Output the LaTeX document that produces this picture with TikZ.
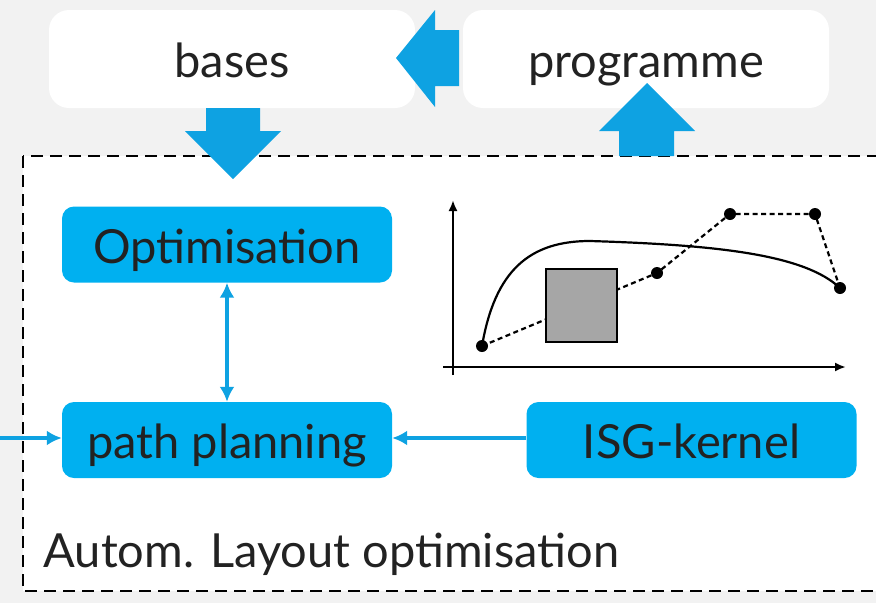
\documentclass[tikz,border=0pt]{standalone}
\usepackage{fontspec}
\setmainfont{Lato}
\usetikzlibrary{arrows.meta}

\definecolor{boxcyan}{HTML}{00B0F0}
\definecolor{flowblue}{HTML}{0EA2E2}
\definecolor{paper}{HTML}{F2F2F2}
\definecolor{inkgray}{HTML}{222222}

\begin{document}
\begin{tikzpicture}[x=1pt, y=-1pt,
    inputbox/.style={fill=white, rounded corners=20pt, minimum width=366pt,
        minimum height=98pt, inner sep=0pt, text=inkgray,
        font=\fontsize{47}{52}\selectfont, text height=40pt, text depth=3pt},
    block/.style={fill=boxcyan, rounded corners=12pt, minimum width=330pt,
        minimum height=76pt, inner sep=0pt, text=inkgray,
        font=\fontsize{47}{52}\selectfont, text height=40pt, text depth=3pt},
    link/.style={draw=flowblue, line width=3.5pt, -{Latex[length=15pt,width=15pt]}},
    bigarrow/.style={fill=flowblue},
    dot/.style={circle, fill=black, inner sep=0pt, minimum size=12pt}
]

% page
\fill[paper] (0,0) rectangle (876,603);
\useasboundingbox (0,0) rectangle (876,603);
\clip (0,0) rectangle (876,603);

% dashed frame of the optimisation loop
\draw[fill=white, line width=2.8pt, dash pattern=on 12pt off 7pt] (23,156) rectangle (890,591);
\node[anchor=west, text=inkgray, font=\fontsize{47}{52}\selectfont] (title) at (40,554) {Autom. Layout optimisation};

% inputs on top
\node[inputbox] (bases) at (232,59) {bases};
\node[inputbox] (prog) at (646,59) {programme};

% block arrows between inputs and frame
\fill[bigarrow] (459,30) -- (435,30) -- (435,10) -- (396,58) -- (435,107) -- (435,86) -- (459,86) -- cycle;
\fill[bigarrow] (206,108) -- (260,108) -- (260,131) -- (281,131) -- (233,179) -- (185,131) -- (206,131) -- cycle;
\fill[bigarrow] (619,156) -- (619,131) -- (599,131) -- (647,83) -- (695,131) -- (674,131) -- (674,156) -- cycle;

% blocks
\node[block] (opt) at (227,244.5) {Optimisation};
\node[block] (path) at (227,440) {path planning};
\node[block] (isg) at (691.5,440) {ISG-kernel};

\coordinate (feed) at (0,438);

\draw[link, {Latex[length=15pt,width=15pt]}-{Latex[length=15pt,width=15pt]}] (opt) -- (path);
\draw[link] (isg.west |- 0,438) -- (path.east |- 0,438);
\draw[link] (feed) -- (path.west |- feed);

% sketch of the layout curve
\draw[line width=2.5pt, -{Latex[length=11pt,width=9pt]}] (453,375) -- (453,200);
\draw[line width=2.5pt, -{Latex[length=11pt,width=9pt]}] (443,367) -- (846,367);

\node[dot] (p1) at (482,346) {};
\node[dot] (p2) at (657,273) {};
\node[dot] (p3) at (730,214) {};
\node[dot] (p4) at (815,214) {};
\node[dot] (p5) at (840,288) {};

\draw[line width=2.2pt, dash pattern=on 5pt off 3.5pt] (p1.center) -- (p2.center) -- (p3.center) -- (p4.center) -- (p5.center);
\draw[line width=2.2pt] (p1.center) .. controls (495,270) and (530,241) .. (590,241)
    .. controls (720,245) and (805,255) .. (p5.center);

\draw[fill=black!35, line width=2.2pt] (546,269) rectangle (617,342);

\end{tikzpicture}
\end{document}
